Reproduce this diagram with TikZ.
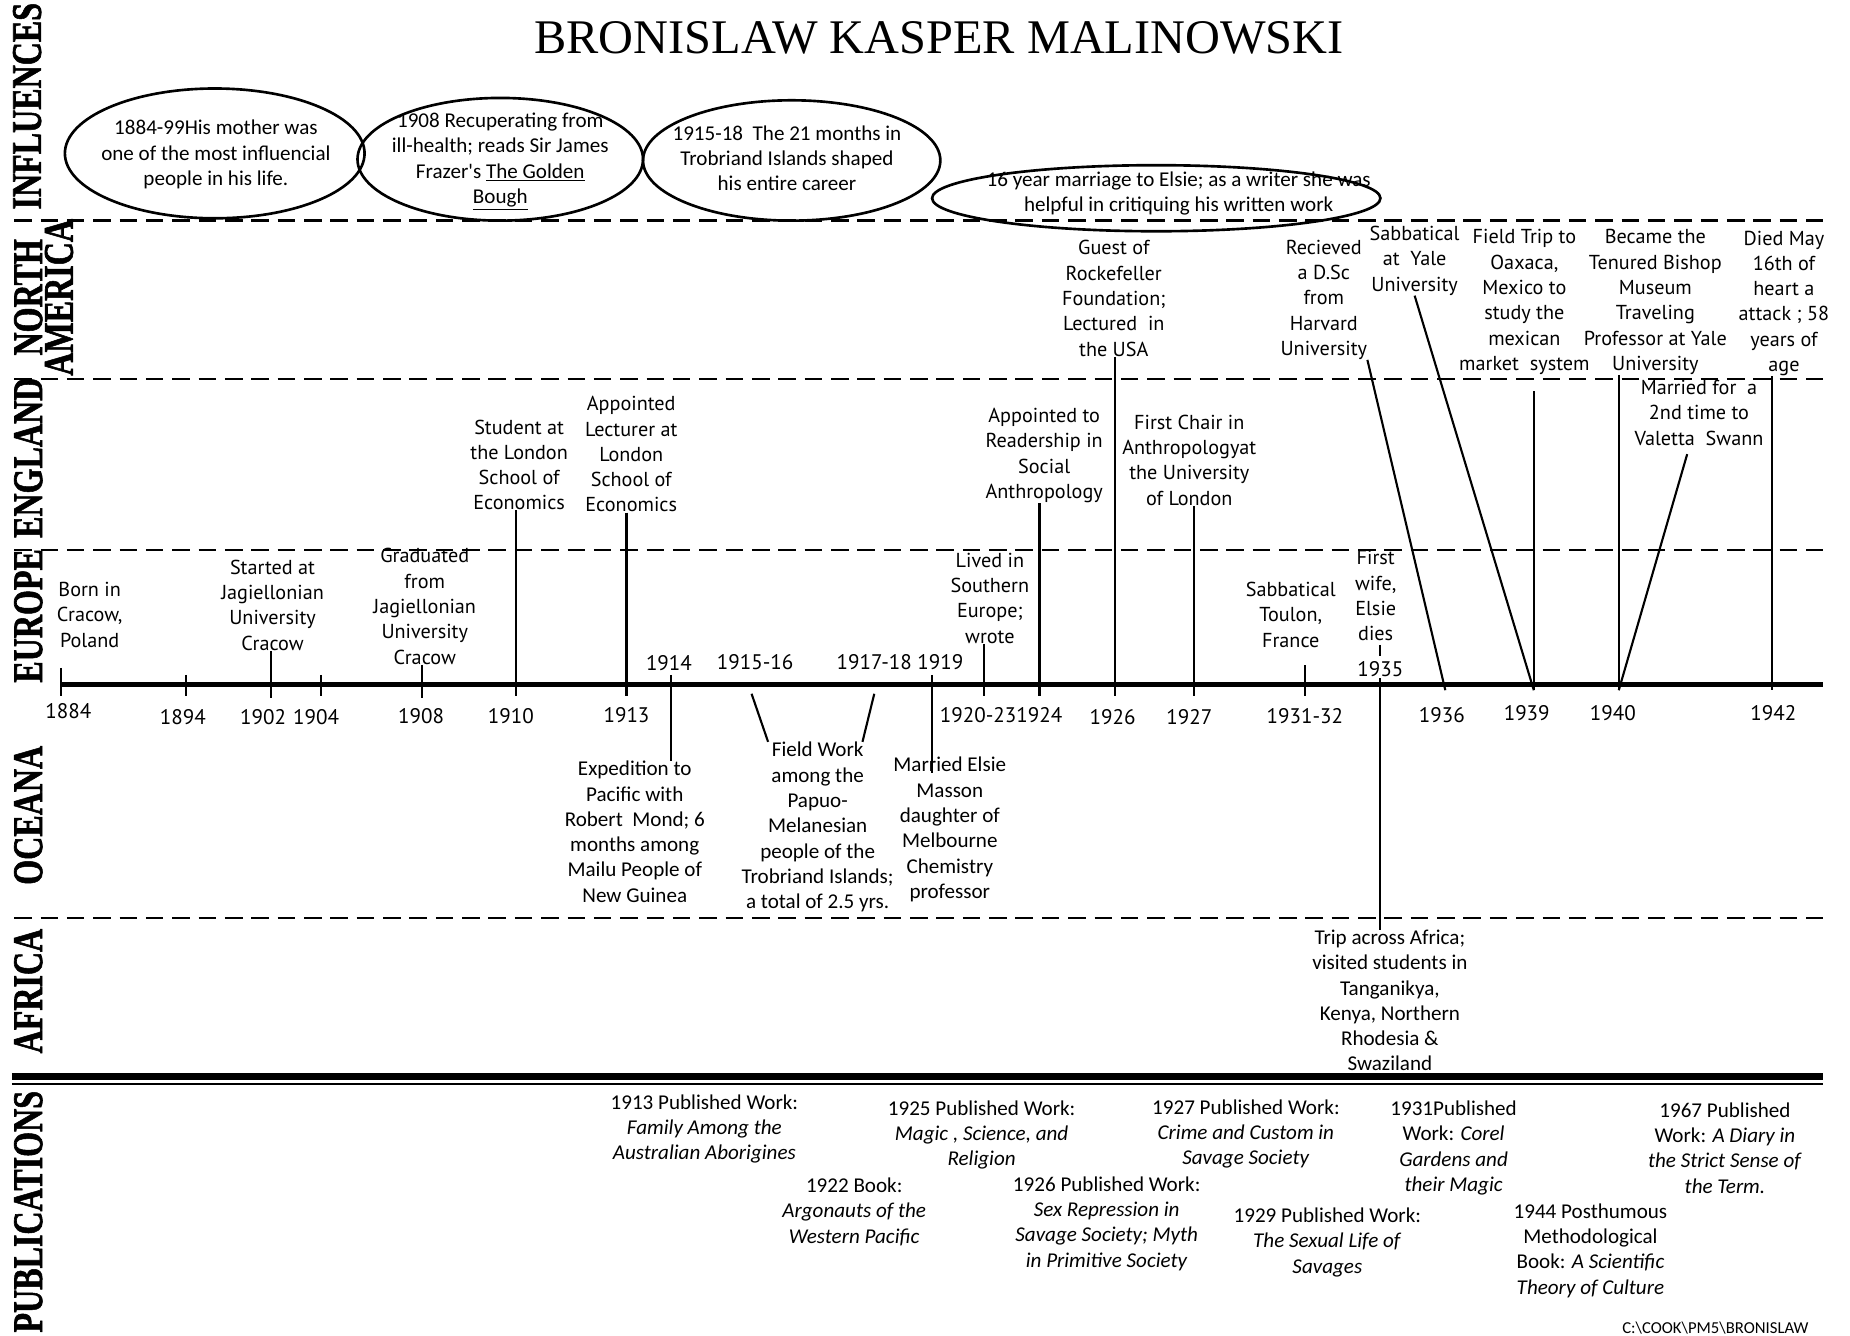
\documentclass[tikz,border=0pt]{standalone}
\usepackage{fontspec}
\usepackage{graphicx}
\setmainfont{Liberation Serif}
\newfontfamily\evsans{PT Sans}
\newfontfamily\cnsans{Carlito}
\newfontfamily\regfont{Liberation Serif}[FakeBold=1.6]
\usetikzlibrary{calc}
\newcommand{\reg}[1]{\scalebox{0.76}[1]{#1}}

\begin{document}
\begin{tikzpicture}[x=0.0236cm, y=-0.0236cm,
    ev/.style={align=center, inner sep=0pt, font=\evsans\fontsize{11.5}{14.4}\selectfont},
    cn/.style={align=center, inner sep=0pt, font=\cnsans\fontsize{12}{14.4}\selectfont},
    yr/.style={inner sep=0pt, font=\evsans\fontsize{12}{14}\selectfont},
    regionlbl/.style={rotate=90, align=center, inner sep=0pt, font=\regfont\fontsize{24}{17.5}\selectfont\bfseries},
    zoneline/.style={line width=1.3pt, dash pattern=on 10pt off 5pt},
    tickline/.style={line width=1.2pt},
    infl/.style={line width=1.5pt}]
  \useasboundingbox (0,0) rectangle (1568,1132);

  % title
  \node (title) at (796,32) {\fontsize{27.5}{30}\selectfont BRONISLAW KASPER MALINOWSKI};

  % regions down the left side
  \node[regionlbl] (influences) at (23,90) {\reg{INFLUENCES}};
  \node[regionlbl] (namerica) at (37,252) {\reg{NORTH}\\\reg{AMERICA}};
  \node[regionlbl] (england) at (24,388) {\reg{ENGLAND}};
  \node[regionlbl] (europe) at (24,522) {\reg{EUROPE}};
  \node[regionlbl] (oceana) at (24,691) {\reg{OCEANA}};
  \node[regionlbl] (africa) at (24,840) {\reg{AFRICA}};
  \node[regionlbl] (publications) at (24,1027) {\reg{PUBLICATIONS}};

  % zone borders
  \foreach \y in {187,321,466,778}
    \draw[zoneline] (12,\y) -- (1545,\y);
  \draw[line width=4pt] (10,912) -- (1545,912);
  \draw[line width=1pt] (10,919) -- (1545,919);

  % influences
  \draw[infl] (182,130) ellipse [x radius=127, y radius=55];
  \draw[infl] (424,135) ellipse [x radius=121, y radius=52];
  \draw[infl] (671,136) ellipse [x radius=126, y radius=51];
  \draw[infl] (980,168) ellipse [x radius=190, y radius=28];
  \node[cn] (mother) at (183,131) {1884-99His mother was\\one of the most influencial\\people in his life.};
  \node[cn] (frazer) at (424,137) {1908 Recuperating from\\ill-health; reads Sir James\\Frazer's \underline{The Golden}\\\underline{Bough}};
  \node[cn] (trobriand) at (667,134) {1915-18\ \ The 21 months in\\Trobriand Islands shaped\\his entire career};
  \node[cn] (elsie) at (999,164) {16 year marriage to Elsie; as a writer she was\\helpful in critiquing his written work};

  % time line
  \coordinate (axisL) at (52,580);
  \coordinate (axisR) at (1545,580);
  \draw[line width=2.6pt] (axisL) -- (axisR);
  \foreach \yr/\x/\y in {1884/52/596, 1894/158/590, 1902/230/592, 1904/272/592,
      1908/358/592, 1910/437/590, 1913/531/590, 1914/569/572, 1915/637/588,
      1917/741/588, 1919/790/572, 1920/834/590, 1924/881/590, 1926/945/590,
      1927/1012/590, 1931/1106/590, 1935/1170/575, 1936/1225/585,
      1939/1300/585, 1940/1372/585, 1942/1502/585}
    \coordinate (a\yr) at (\x,\y);
  \foreach \yr/\x/\y in {1884/58/603, 1894/155/608, 1902/223/608, 1904/268/608,
      1908/357/607, 1910/433/607, 1913/531/606, 1920-23/829/606, 1924/881/606,
      1926/943/608, 1927/1008/608, 1931-32/1106/607, 1936/1222/606,
      1939/1294/604, 1940/1367/604, 1942/1503/604, 1914/567/562,
      1915-16/640/561, 1917-18/741/561, 1919/797/561, 1935/1170/567}
    \node[yr] (y\yr) at (\x,\y) {\yr};
  \foreach \x/\top in {52/566, 158/572, 272/572, 1106/564}
    \draw[tickline] (\x,\top) -- (\x,590);

  % europe
  \node[ev] (born) at (76,521) {Born in\\Cracow,\\Poland};
  \node[ev] (jagStart) at (231,513) {Started at\\Jagiellonian\\University\\Cracow};
  \node[ev] (jagGrad) at (360,514) {Graduated\\from\\Jagiellonian\\University\\Cracow};
  \node[ev] (lived) at (839,507) {Lived in\\Southern\\Europe;\\wrote};
  \node[ev] (toulon) at (1094,521) {Sabbatical\\Toulon,\\France};
  \node[ev] (elsieDies) at (1166,505) {First\\wife,\\Elsie\\dies};
  \draw[tickline] (jagStart.south -| a1902) -- (a1902);
  \draw[tickline] (jagGrad.south -| a1908) -- (a1908);
  \draw[tickline] (lived.south -| a1920) -- (a1920);
  \draw[tickline] ($(elsieDies.south -| a1935)+(0,3)$) -- ($(y1935.north)+(0,-4)$);

  % england
  \node[ev] (lse) at (440,394) {Student at\\the London\\School of\\Economics};
  \node[ev] (lecturer) at (535,385) {Appointed\\Lecturer at\\London\\School of\\Economics};
  \node[ev] (reader) at (885,386) {Appointed to\\Readership in\\Social\\Anthropology};
  \node[ev] (chair) at (1008,390) {First Chair in\\Anthropologyat\\the University\\of London};
  \node[ev] (swann) at (1440,350) {Married for\ \ a\\2nd time to\\Valetta\ \ Swann};
  \draw[tickline] (lse.south -| a1910) -- (a1910);
  \draw[tickline] (lecturer.south -| a1913) -- (a1913);
  \draw[tickline] (reader.south -| a1924) -- (a1924);
  \draw[tickline] (chair.south -| a1927) -- (a1927);
  \draw[tickline] ($(swann.south)+(-10,7)$) -- (a1940);

  % north america
  \node[ev] (rockefeller) at (944,253) {Guest of\\Rockefeller\\Foundation;\\Lectured\ \ in\\the USA};
  \node[ev] (harvard) at (1122,254) {Recieved\\a D.Sc\\from\\Harvard\\University};
  \node[ev] (yale) at (1199,221) {Sabbatical\\at\ \ Yale\\University};
  \node[ev] (oaxaca) at (1292,256) {Field Trip to\\Oaxaca,\\Mexico to\\study the\\mexican\\market\ \ system};
  \node[ev] (bishop) at (1403,256) {Became the\\Tenured Bishop\\Museum\\Traveling\\Professor at Yale\\University};
  \node[ev] (died) at (1512,257) {Died May\\16th of\\heart a\\attack ; 58\\years of\\age};
  \draw[tickline] (rockefeller.south -| a1926) -- (a1926);
  \draw[tickline] (harvard.south east) -- (a1936);
  \draw[tickline] (yale.south) -- (a1939);
  \draw[tickline] ($(oaxaca.south -| a1939)+(0,14)$) -- (a1939);
  \draw[tickline] (bishop.south -| a1940) -- (a1940);
  \draw[tickline] (died.south -| a1942) -- (a1942);

  % oceana
  \node[cn] (exped) at (538,705) {Expedition to\\Pacific with\\Robert\ \ Mond; 6\\months among\\Mailu People of\\New Guinea};
  \node[cn] (fieldwork) at (693,701) {Field Work\\among the\\Papuo-\\Melanesian\\people of the\\Trobriand Islands;\\a total of 2.5 yrs.};
  \node[cn] (married) at (805,703) {Married Elsie\\Masson\\daughter of\\Melbourne\\Chemistry\\professor};
  \draw[tickline] (a1914) -- (exped.north -| a1914);
  \draw[tickline] (a1915) -- ($(fieldwork.north)+(-42,0)$);
  \draw[tickline] (a1917) -- ($(fieldwork.north)+(38,0)$);
  \draw[tickline] (a1919) -- ($(married.north -| a1919)+(0,14)$);

  % africa
  \node[cn] (trip) at (1178,848) {Trip across Africa;\\visited students in\\Tanganikya,\\Kenya, Northern\\Rhodesia \&\\Swaziland};
  \draw[tickline] (a1935) -- (trip.north -| a1935);

  % publications
  \node[cn] (pub1913) at (597,957) {1913 Published Work:\\\textit{Family Among the}\\\textit{Australian Aborigines}};
  \node[cn] (pub1925) at (832,962) {1925 Published Work:\\\textit{Magic , Science, and}\\\textit{Religion}};
  \node[cn] (pub1922) at (724,1027) {1922 Book:\\\textit{Argonauts of the}\\\textit{Western Pacific}};
  \node[cn] (pub1926) at (938,1037) {1926 Published Work:\\\textit{Sex Repression in}\\\textit{Savage Society; Myth}\\\textit{in Primitive Society}};
  \node[cn] (pub1927) at (1056,961) {1927 Published Work:\\\textit{Crime and Custom in}\\\textit{Savage Society}};
  \node[cn] (pub1929) at (1125,1053) {1929 Published Work:\\\textit{The Sexual Life of}\\\textit{Savages}};
  \node[cn] (pub1931) at (1232,973) {1931Published\\Work: \textit{Corel}\\\textit{Gardens and}\\\textit{their Magic}};
  \node[cn] (pub1944) at (1348,1060) {1944 Posthumous\\Methodological\\Book: \textit{A Scientific}\\\textit{Theory of Culture}};
  \node[cn] (pub1967) at (1462,973) {1967 Published\\Work: \textit{A Diary in}\\\textit{the Strict Sense of}\\\textit{the Term.}};

  \node[anchor=east, inner sep=0pt, font=\cnsans\fontsize{9.5}{11}\selectfont] (path) at (1533,1126)
    {C:\textbackslash COOK\textbackslash PM5\textbackslash BRONISLAW};
\end{tikzpicture}
\end{document}
